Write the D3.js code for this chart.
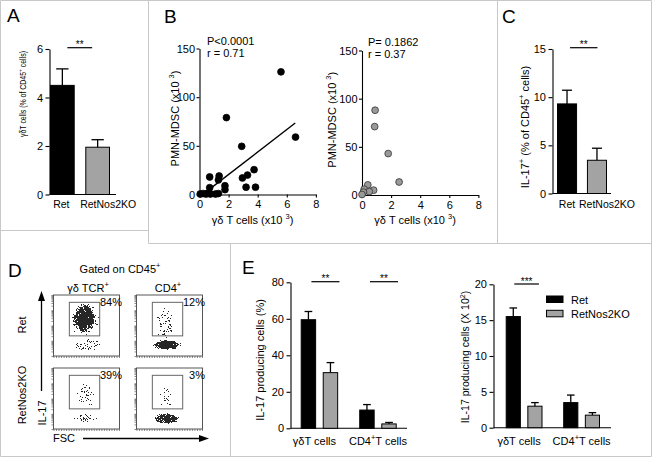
<!DOCTYPE html>
<html><head><meta charset="utf-8">
<script src="https://cdn.jsdelivr.net/npm/d3@7"></script>
<style>
body{margin:0;background:#fff;}
svg{display:block;font-family:"Liberation Sans",Arial,sans-serif;}
</style></head><body>
<svg id="fig" width="652" height="457"></svg>
<script>
// ---------------- DATA ----------------
const genotypes = ["Ret", "RetNos2KO"];
const gdPctMean = [4.5, 1.95];
const gdPctSem = [0.68, 0.31];
const gdPctTicks = [0, 2, 4, 6];

const il17PctMean = [9.3, 3.45];
const il17PctSem = [1.42, 1.25];
const il17PctTicks = [0, 5, 10, 15];

const retGdX = [0.05, 0.25, 0.45, 0.6, 0.75, 1.1, 1.3, 0.7, 0.7, 1.3, 1.35, 1.75, 1.75, 1.85, 2.9, 2.95, 3.2, 3.3, 3.75, 3.85, 5.6, 6.6];
const retMdscY = [0.5, 1, 0.5, 1.5, 0.5, 0.5, 1, 7, 18, 15, 19, 5, 9, 79, 49.5, 17, 7.5, 20, 25.5, 7.5, 126, 59];
const retFitX = [0.65, 6.58];
const retFitY = [5, 73.5];
const koGdX = [0.9, 0.87, 1.8, 2.55, 0.4, 0.15, 0.8, 0.5, 0.1, 0.0];
const koMdscY = [88, 71, 43, 13.5, 10.5, 6, 5, 3.5, 3, 0.5];
const corrStats = [["P<0.0001", "r = 0.71"], ["P= 0.1862", "r = 0.37"]];
const scatterXTicks = [0, 2, 4, 6, 8];
const scatterYTicks = [0, 50, 100, 150];

const flowCols = ["γδ TCR", "CD4"];
const flowRows = ["Ret", "RetNos2KO"];
const flowGatePct = [["84%", "12%"], ["39%", "3%"]];
// event clouds: centre (cx, cy), spread (rx, ry) in plot fractions, density d
const flowClusters = [
  [
    [{cx: 0.48, cy: 0.6, rx: 0.27, ry: 0.34, d: 0.5}, {cx: 0.47, cy: 0.63, rx: 0.18, ry: 0.25, d: 1}, {cx: 0.52, cy: 0.18, rx: 0.27, ry: 0.13, d: 0.5}],
    [{cx: 0.44, cy: 0.52, rx: 0.17, ry: 0.33, d: 0.44}, {cx: 0.46, cy: 0.18, rx: 0.25, ry: 0.1, d: 1}]
  ],
  [
    [{cx: 0.48, cy: 0.58, rx: 0.17, ry: 0.27, d: 0.43}, {cx: 0.5, cy: 0.17, rx: 0.22, ry: 0.1, d: 0.5}],
    [{cx: 0.45, cy: 0.5, rx: 0.12, ry: 0.27, d: 0.38}, {cx: 0.46, cy: 0.17, rx: 0.23, ry: 0.1, d: 1}]
  ]
];
const flowGate = {x0: 0.24, x1: 0.70, y0: 0.33, y1: 0.88};

const cellTypes = ["γδT cells", "CD4+T cells"];
const il17ProdPctRet = [59.5, 10];
const il17ProdPctRetSem = [4.5, 3];
const il17ProdPctKo = [30.5, 2.4];
const il17ProdPctKoSem = [5.5, 0.8];
const il17ProdPctTicks = [0, 20, 40, 60, 80];
const il17ProdNumRet = [15.5, 3.5];
const il17ProdNumRetSem = [1.2, 1.05];
const il17ProdNumKo = [3.0, 1.75];
const il17ProdNumKoSem = [0.5, 0.35];
const il17ProdNumTicks = [0, 5, 10, 15, 20];

// ---------------- STYLE ----------------
const FS = 11;
const BLACK = "#000";
const GREY = "#a3a3a3";
const fills = [BLACK, GREY];
const svg = d3.select("#fig");

const defs = svg.append("defs");
const rg = defs.append("radialGradient").attr("id", "flowGrad");
rg.append("stop").attr("offset", 0).attr("stop-color", "#000").attr("stop-opacity", 1);
rg.append("stop").attr("offset", 0.6).attr("stop-color", "#000").attr("stop-opacity", 0.75);
rg.append("stop").attr("offset", 1).attr("stop-color", "#000").attr("stop-opacity", 0);
const flt = defs.append("filter").attr("id", "speckle").attr("x", "-20%").attr("y", "-20%")
  .attr("width", "140%").attr("height", "140%").attr("color-interpolation-filters", "sRGB");
flt.append("feTurbulence").attr("type", "fractalNoise").attr("baseFrequency", 2.3).attr("numOctaves", 1).attr("seed", 7).attr("result", "t");
flt.append("feColorMatrix").attr("in", "t").attr("type", "matrix")
  .attr("values", "0 0 0 0 0  0 0 0 0 0  0 0 0 0 0  1.6 0 0 0 -0.3").attr("result", "n");
flt.append("feComposite").attr("in", "SourceGraphic").attr("in2", "n").attr("operator", "arithmetic")
  .attr("k1", 0).attr("k2", 1).attr("k3", -1).attr("k4", 0).attr("result", "d");
flt.append("feComponentTransfer").attr("in", "d").append("feFuncA").attr("type", "discrete")
  .attr("tableValues", "0 " + d3.range(19).map(() => "0.85").join(" "));

// panel frames
const frame = "#c8c8c8";
[[0.5, 0.5, 651.5, 0.5], [0.5, 0.5, 0.5, 456.5], [651.5, 0.5, 651.5, 456.5], [0.5, 456.5, 651.5, 456.5],
 [148.5, 0, 148.5, 243.5], [497.5, 0, 497.5, 243.5], [0, 230.5, 148.5, 230.5], [148.5, 243.5, 652, 243.5],
 [230.5, 243.5, 230.5, 457]].forEach(l => {
  svg.append("line").attr("x1", l[0]).attr("y1", l[1]).attr("x2", l[2]).attr("y2", l[3])
    .attr("stroke", frame).attr("stroke-width", 1);
});

// panel letters
[["A", 7, 21.7], ["B", 164, 22.7], ["C", 502, 23.3], ["D", 8, 276.5], ["E", 242, 274.3]].forEach(p => {
  svg.append("text").attr("x", p[1]).attr("y", p[2]).attr("font-size", 19).text(p[0]);
});

// rich text helper: parts = strings or {sup: "..."}
function rich(sel, parts, fs) {
  let up = false;
  const sh = fs * 0.42;
  parts.forEach(p => {
    const isSup = typeof p !== "string";
    const ts = sel.append("tspan").text(isSup ? p.sup : p);
    if (isSup) { ts.attr("font-size", fs * 0.68); if (!up) { ts.attr("dy", -sh); up = true; } }
    else if (up) { ts.attr("dy", sh); up = false; }
  });
  return sel;
}
function label(x, y, parts, opts = {}) {
  const fs = opts.fs || FS;
  const t = svg.append("text").attr("font-size", fs).attr("text-anchor", opts.anchor || "middle")
    .attr("transform", `translate(${x},${y})` + (opts.rot ? ` rotate(${opts.rot})` : ""));
  if (opts.len) t.attr("textLength", opts.len).attr("lengthAdjust", "spacingAndGlyphs");
  return rich(t, parts, fs);
}
function styleAxis(g) {
  g.attr("font-family", null).attr("font-size", FS);
  g.selectAll("path,line").attr("stroke", BLACK).attr("stroke-width", 1.1);
  g.selectAll("text").attr("fill", BLACK);
}
function sig(x1, x2, y, txt) {
  svg.append("line").attr("x1", x1).attr("x2", x2).attr("y1", y).attr("y2", y).attr("stroke", BLACK).attr("stroke-width", 1.2);
  svg.append("text").attr("x", (x1 + x2) / 2).attr("y", y + 0.5).attr("text-anchor", "middle").attr("font-size", 10).text(txt);
}
function errBar(xc, yMean, yTop, half) {
  svg.append("line").attr("x1", xc).attr("x2", xc).attr("y1", yMean).attr("y2", yTop).attr("stroke", BLACK).attr("stroke-width", 1.3);
  svg.append("line").attr("x1", xc - half).attr("x2", xc + half).attr("y1", yTop).attr("y2", yTop).attr("stroke", BLACK).attr("stroke-width", 1.3);
}
const intFmt = d3.format("d");

// ---------------- simple two-bar panels (A, C) ----------------
function twoBar(o) {
  const y = d3.scaleLinear().domain([0, o.max]).range(o.yRange);
  const x = d3.scaleBand().domain(genotypes).range(o.xRange).paddingInner(o.pad).paddingOuter(0);
  const ax = svg.append("g").attr("transform", `translate(${o.axisX},0)`)
    .call(d3.axisLeft(y).tickValues(o.ticks).tickFormat(intFmt).tickSize(4).tickSizeOuter(0).tickPadding(2.5));
  styleAxis(ax);
  svg.append("line").attr("x1", o.axisX).attr("x2", o.xEnd).attr("y1", y(0)).attr("y2", y(0)).attr("stroke", BLACK).attr("stroke-width", 1.1);
  genotypes.forEach((g, i) => {
    svg.append("rect").attr("x", x(g) + 0.5).attr("y", y(o.mean[i])).attr("width", x.bandwidth() - 1)
      .attr("height", y(0) - y(o.mean[i])).attr("fill", fills[i]).attr("stroke", BLACK).attr("stroke-width", 1);
    errBar(x(g) + x.bandwidth() / 2, y(o.mean[i]), y(o.mean[i] + o.sem[i]), x.bandwidth() / 4);
    svg.append("text").attr("x", x(g) + x.bandwidth() / 2 + o.lblShift[i]).attr("y", o.lblY)
      .attr("text-anchor", "middle").attr("font-size", o.lblFs).text(g);
  });
  const c1 = x(genotypes[0]) + x.bandwidth() / 2, c2 = x(genotypes[1]) + x.bandwidth() / 2;
  sig(c1 + o.sigOff[0], c2 + o.sigOff[1], o.sigY, "**");
}
twoBar({max: 6, ticks: gdPctTicks, yRange: [194.5, 49], axisX: 49.5, xRange: [50, 110], pad: 0.3, xEnd: 116,
  mean: gdPctMean, sem: gdPctSem, lblY: 208, sigOff: [5, -5.5], sigY: 47.7, lblShift: [-1, 10.5], lblFs: 10.5});
label(26, 94, ["γδT cells (% of CD45", {sup: "+"}, " cells)"], {rot: -90, fs: 9, len: 86});

twoBar({max: 15, ticks: il17PctTicks, yRange: [193.5, 49], axisX: 552.5, xRange: [557, 607], pad: 0.33, xEnd: 611,
  mean: il17PctMean, sem: il17PctSem, lblY: 208, sigOff: [3, 0.5], sigY: 47.7, lblShift: [0, 10], lblFs: 10.5});
label(529, 127, ["IL-17", {sup: "+"}, " (% of CD45", {sup: "+"}, " cells)"], {rot: -90});

// ---------------- scatter panels (B) ----------------
function scatter(o) {
  const x = d3.scaleLinear().domain([0, 8]).range([o.axisX, o.axisX + 116.4]);
  const y = d3.scaleLinear().domain([0, 150]).range([o.y0, o.yTop]);
  const ay = svg.append("g").attr("transform", `translate(${o.axisX},0)`)
    .call(d3.axisLeft(y).tickValues(scatterYTicks).tickFormat(intFmt).tickSize(3).tickSizeOuter(0).tickPadding(1.5));
  styleAxis(ay);
  const axx = svg.append("g").attr("transform", `translate(0,${o.y0})`)
    .call(d3.axisBottom(x).tickValues(scatterXTicks).tickFormat(intFmt).tickSize(3).tickSizeOuter(0).tickPadding(3));
  styleAxis(axx);
  if (o.fitX) {
    svg.append("line").attr("x1", x(o.fitX[0])).attr("y1", y(o.fitY[0])).attr("x2", x(o.fitX[1])).attr("y2", y(o.fitY[1]))
      .attr("stroke", BLACK).attr("stroke-width", 1.4);
  }
  svg.append("g").selectAll("circle").data(o.xs.map((v, i) => [v, o.ys[i]])).join("circle")
    .attr("cx", d => x(d[0])).attr("cy", d => y(d[1])).attr("r", 3.4)
    .attr("fill", o.fill).attr("stroke", o.stroke).attr("stroke-width", 0.8);
  svg.append("text").attr("x", o.axisX + o.statDx).attr("y", o.statY).attr("font-size", FS).text(o.stats[0]);
  svg.append("text").attr("x", o.axisX + o.statDx).attr("y", o.statY + 12).attr("font-size", FS).text(o.stats[1]);
  label(o.axisX + 53, 224, ["γδ T cells (x10 ", {sup: "3"}, ")"]);
  label(o.axisX - o.ylabDx, (o.y0 + o.yTop) / 2 - 3, ["PMN-MDSC (x10 ", {sup: "3"}, ")"], {rot: -90});
}
scatter({axisX: 199.5, y0: 194.5, yTop: 48.5, xs: retGdX, ys: retMdscY, fitX: retFitX, fitY: retFitY,
  fill: BLACK, stroke: BLACK, stats: corrStats[0], statDx: 7.5, statY: 45, ylabDx: 20.5});
scatter({axisX: 362, y0: 195, yTop: 50.5, xs: koGdX, ys: koMdscY,
  fill: "#999", stroke: "#333", stats: corrStats[1], statDx: 6, statY: 46.3, ylabDx: 26});

// ---------------- flow plots (D) ----------------
const flowX = [53.5, 136.5], flowY = [295, 368], flowW = 66, flowH = 61;
flowRows.forEach((r, ri) => {
  flowCols.forEach((c, ci) => {
    const x0 = flowX[ci], y0 = flowY[ri];
    const fx = d3.scaleLinear().domain([0, 1]).range([x0, x0 + flowW]);
    const fy = d3.scaleLinear().domain([0, 1]).range([y0 + flowH, y0]);
    const cg = svg.append("g").attr("filter", "url(#speckle)");
    flowClusters[ri][ci].forEach(k => {
      cg.append("ellipse").attr("cx", fx(k.cx)).attr("cy", fy(k.cy)).attr("rx", k.rx * flowW).attr("ry", k.ry * flowH)
        .attr("fill", "url(#flowGrad)").attr("fill-opacity", k.d);
    });
    svg.append("rect").attr("x", x0).attr("y", y0).attr("width", flowW).attr("height", flowH)
      .attr("fill", "none").attr("stroke", "#444").attr("stroke-width", 0.9);
    svg.append("rect").attr("x", fx(flowGate.x0)).attr("y", fy(flowGate.y1))
      .attr("width", fx(flowGate.x1) - fx(flowGate.x0)).attr("height", fy(flowGate.y0) - fy(flowGate.y1))
      .attr("fill", "none").attr("stroke", "#666").attr("stroke-width", 1);
    const ly = d3.scaleLog().domain([10, 1e5]).range([y0 + flowH, y0]);
    const gl = svg.append("g").attr("transform", `translate(${x0},0)`).call(d3.axisLeft(ly).tickSize(2).tickFormat("").tickSizeOuter(0));
    gl.select("path").remove();
    gl.selectAll("line").attr("stroke", "#555").attr("stroke-width", 0.7);
    const lx = d3.scaleLinear().domain([0, 262]).range([x0, x0 + flowW]);
    const gb = svg.append("g").attr("transform", `translate(0,${y0 + flowH})`).call(d3.axisBottom(lx).ticks(26).tickSize(2).tickFormat("").tickSizeOuter(0));
    gb.select("path").remove();
    gb.selectAll("line").attr("stroke", "#555").attr("stroke-width", 0.7);
    svg.append("text").attr("x", x0 + flowW + 2.5).attr("y", y0 + 11).attr("text-anchor", "end").attr("font-size", FS).text(flowGatePct[ri][ci]);
  });
});
label(120, 273, ["Gated on CD45", {sup: "+"}]);
label(88, 292, ["γδ TCR", {sup: "+"}]);
label(168, 292, ["CD4", {sup: "+"}]);
label(25.5, 325, ["Ret"], {rot: -90});
label(25.5, 395, ["RetNos2KO"], {rot: -90});
label(45.5, 413, ["IL-17"], {rot: -90});
label(53, 442, ["FSC"], {anchor: "start"});
svg.append("line").attr("x1", 41.5).attr("x2", 41.5).attr("y1", 391).attr("y2", 299).attr("stroke", BLACK).attr("stroke-width", 1.3);
svg.append("path").attr("d", "M41.5,291 L38,301 L45,301 Z").attr("fill", BLACK);
svg.append("line").attr("x1", 83).attr("x2", 201).attr("y1", 438.5).attr("y2", 438.5).attr("stroke", BLACK).attr("stroke-width", 1.3);
svg.append("path").attr("d", "M209,438.5 L199,435 L199,442 Z").attr("fill", BLACK);

// ---------------- grouped bars (E) ----------------
function grouped(o) {
  const y = d3.scaleLinear().domain([0, o.max]).range(o.yRange);
  const x0 = d3.scaleBand().domain(cellTypes).range(o.xRange).paddingInner(0.36).paddingOuter(0);
  const x1 = d3.scaleBand().domain(genotypes).range([0, x0.bandwidth()]).paddingInner(0.3).paddingOuter(0);
  const ax = svg.append("g").attr("transform", `translate(${o.axisX},0)`)
    .call(d3.axisLeft(y).tickValues(o.ticks).tickFormat(intFmt).tickSize(4).tickSizeOuter(0).tickPadding(2.5));
  styleAxis(ax);
  svg.append("line").attr("x1", o.axisX).attr("x2", o.xEnd).attr("y1", y(0)).attr("y2", y(0)).attr("stroke", BLACK).attr("stroke-width", 1.1);
  cellTypes.forEach((ct, gi) => {
    genotypes.forEach((g, si) => {
      const m = o.means[si][gi], s = o.sems[si][gi];
      const bx = x0(ct) + x1(g);
      svg.append("rect").attr("x", bx + 0.5).attr("y", y(m)).attr("width", x1.bandwidth() - 1).attr("height", y(0) - y(m))
        .attr("fill", fills[si]).attr("stroke", BLACK).attr("stroke-width", 1);
      errBar(bx + x1.bandwidth() / 2, y(m), y(m + s), x1.bandwidth() / 4);
    });
    const cx = x0(ct) + x0.bandwidth() / 2 + o.lblShift[gi];
    const parts = ct.indexOf("+") >= 0 ? [ct.split("+")[0], {sup: "+"}, ct.split("+")[1]] : [ct];
    label(cx, 445, parts);
    if (o.sig[gi]) {
      const cb = x0(ct) + x1(genotypes[0]) + x1.bandwidth() / 2, cg = x0(ct) + x1(genotypes[1]) + x1.bandwidth() / 2;
      sig(cb + o.sigOff[0], cg + o.sigOff[1], o.sigY, o.sig[gi]);
    }
  });
  return {x0, x1, y};
}
grouped({max: 80, ticks: il17ProdPctTicks, yRange: [428.3, 282.3], axisX: 290.5, xRange: [300.7, 396.7], xEnd: 407,
  means: [il17ProdPctRet, il17ProdPctKo], sems: [il17ProdPctRetSem, il17ProdPctKoSem],
  sig: ["**", "**"], sigOff: [3, 9], sigY: 281.7, lblShift: [-5, 0]});
label(264, 360, ["IL-17 producing cells (%)"], {rot: -90});

grouped({max: 20, ticks: il17ProdNumTicks, yRange: [427.7, 284.3], axisX: 493.5, xRange: [505.7, 600], xEnd: 611,
  means: [il17ProdNumRet, il17ProdNumKo], sems: [il17ProdNumRetSem, il17ProdNumKoSem],
  sig: ["***", null], sigOff: [1, 4], sigY: 284, lblShift: [-5, 0]});
label(469, 357, ["IL-17 producing cells (X 10", {sup: "2"}, ")"], {rot: -90, fs: 10.5});

// legend
genotypes.forEach((g, i) => {
  svg.append("rect").attr("x", 546.5).attr("y", 296 + i * 14.3).attr("width", 16.5).attr("height", 6.5)
    .attr("fill", fills[i]).attr("stroke", BLACK).attr("stroke-width", 1);
  svg.append("text").attr("x", 571).attr("y", 304 + i * 14.3).attr("font-size", FS).text(g);
});
</script>
</body></html>
